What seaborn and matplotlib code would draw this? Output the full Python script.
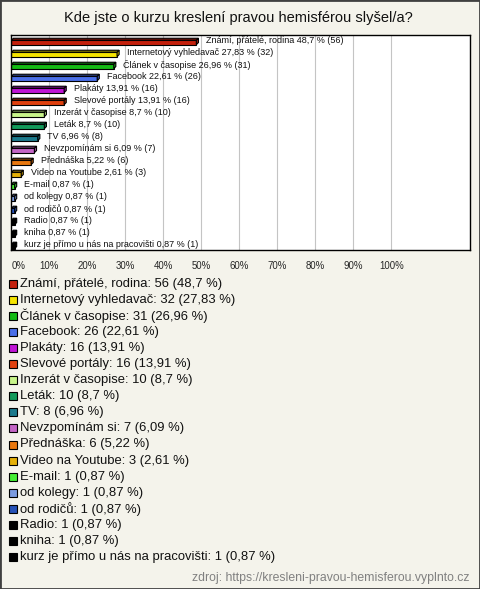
import matplotlib
matplotlib.use("Agg")
import matplotlib.pyplot as plt
import seaborn as sns
import numpy as np
import pandas as pd
from matplotlib.patches import Polygon, Rectangle
from matplotlib.colors import to_rgb

title = "Kde jste o kurzu kreslení pravou hemisférou slyšel/a?"
source = "zdroj: https://kresleni-pravou-hemisferou.vyplnto.cz"

categories = ["Známí, přátelé, rodina", "Internetový vyhledavač", "Článek v časopise",
              "Facebook", "Plakáty", "Slevové portály", "Inzerát v časopise", "Leták",
              "TV", "Nevzpomínám si", "Přednáška", "Video na Youtube", "E-mail",
              "od kolegy", "od rodičů", "Radio", "kniha",
              "kurz je přímo u nás na pracovišti"]
counts = [56, 32, 31, 26, 16, 16, 10, 10, 8, 7, 6, 3, 1, 1, 1, 1, 1, 1]
percents = [48.7, 27.83, 26.96, 22.61, 13.91, 13.91, 8.7, 8.7, 6.96, 6.09, 5.22, 2.61,
            0.87, 0.87, 0.87, 0.87, 0.87, 0.87]
colors = ["#c4200c", "#f5e400", "#14bb14", "#4a6fe8", "#c015d5", "#e0400e", "#c8f58a",
          "#129a5a", "#1c7a8c", "#c466c6", "#e9780f", "#e5b008", "#44ee33", "#7b9be0",
          "#2652b8", "#000000", "#000000", "#000000"]
xticks = list(range(0, 101, 10))

def fmt(p):
    return f"{p:g}".replace(".", ",")

W, H = 480, 589
bg = "#f4f3eb"
sns.set_theme(style="white")
plt.rcParams["font.family"] = ["Liberation Sans", "DejaVu Sans"]

fig = plt.figure(figsize=(W / 100, H / 100), dpi=100, facecolor=bg)
ax = fig.add_axes([11.3 / W, 1 - 250 / H, (470 - 11.3) / W, (250 - 35) / H])
ax.set_facecolor("white")

df = pd.DataFrame({"cat": categories, "pct": percents})
sns.barplot(data=df, x="pct", y="cat", hue="cat", palette=colors, orient="h",
            width=0.36, edgecolor="black", linewidth=0.8, legend=False, ax=ax,
            saturation=1)

ax.set_xlim(0, (470 - 11.3) / 3.8)
ax.set_ylim(17.3, -0.62)

dx, dy = 0.55, 0.17
for p in ax.patches:
    x0, y0, w, h = p.get_x(), p.get_y(), p.get_width(), p.get_height()
    x1, y1 = x0 + w, y0 + h
    c = np.array(to_rgb(p.get_facecolor()))
    dark = tuple(c * 0.6)
    side = tuple(c * 0.8)
    top = Polygon([(x0, y0), (x0 + dx, y0 - dy), (x1 + dx, y0 - dy), (x1, y0)],
                  closed=True, facecolor=dark, edgecolor="black", lw=0.8, zorder=p.get_zorder())
    sd = Polygon([(x1, y0), (x1 + dx, y0 - dy), (x1 + dx, y1 - dy), (x1, y1)],
                 closed=True, facecolor=side, edgecolor="black", lw=0.8, zorder=p.get_zorder())
    ax.add_patch(top)
    ax.add_patch(sd)

for i, (cat, n, pc) in enumerate(zip(categories, counts, percents)):
    ax.annotate(f"{cat} {fmt(pc)} % ({n})", xy=(pc, i - 0.12), xytext=(7.0, 0),
                textcoords="offset points", va="center", ha="left", fontsize=6.5,
                color="#111111")

ax.set_xticks(xticks)
ax.set_xticklabels([f"{t}%" for t in xticks], fontsize=6.9)
ax.get_xticklabels()[0].set_horizontalalignment("left")
ax.tick_params(axis="x", length=0, pad=8)
ax.set_yticks([])
ax.set_xlabel("")
ax.set_ylabel("")
ax.grid(axis="x", color="#c4c4c4", lw=0.8)
ax.set_axisbelow(True)
for s in ax.spines.values():
    s.set_visible(True)
    s.set_color("black")
    s.set_linewidth(1.0)

fig.text(238 / W, 1 - 18 / H, title, ha="center", va="center", fontsize=10.5, color="#111111")

# legend
y_first, pitch = 284.0, 16.05
for i, (cat, n, pc, col) in enumerate(zip(categories, counts, percents, colors)):
    yc = y_first + i * pitch
    fig.patches.append(Rectangle((9 / W, 1 - (yc + 4) / H), 8 / W, 8 / H,
                                 transform=fig.transFigure, facecolor=col,
                                 edgecolor="black", lw=0.8))
    fig.text(19.5 / W, 1 - yc / H, f"{cat}: {n} ({fmt(pc)} %)", ha="left", va="center",
             fontsize=9.4, color="#111111")

fig.text(470 / W, 1 - 578 / H, source, ha="right", va="center", fontsize=8.8, color="#808080")

fig.patches.append(Rectangle((0, 0), 1, 1, transform=fig.transFigure, fill=False,
                             edgecolor="#404040", lw=2))

fig.savefig("out.png", dpi=100, facecolor=bg)
